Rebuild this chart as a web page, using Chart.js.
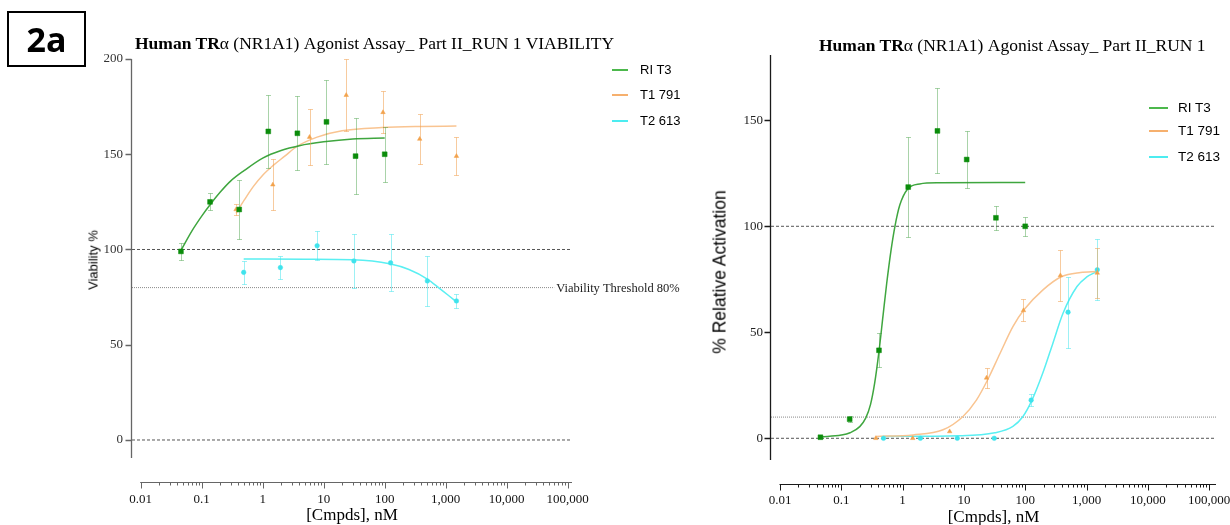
<!DOCTYPE html>
<html>
<head>
<meta charset="utf-8">
<script src="https://cdn.jsdelivr.net/npm/chart.js@4.4.1/dist/chart.umd.min.js"></script>
<style>
  html, body { margin: 0; padding: 0; background: #fff; }
  #page { position: relative; width: 1230px; height: 525px; overflow: hidden; background: #fff; }
  canvas { position: absolute; top: 0; }
  #viabilityChart { left: 0; }
  #activationChart { left: 700px; }
  .tag { position: absolute; left: 7px; top: 11px; width: 75px; height: 52px; border: 2px solid #000;
         font: bold 34px 'Open Sans'; display: flex; align-items: center; justify-content: center; line-height: 1; }
  .title { position: absolute; font: 17.5px 'Liberation Serif'; line-height: 18px; white-space: nowrap; color: #000; }
  .ytitle { position: absolute; font-family: 'Liberation Sans'; white-space: nowrap; color: #000;
            transform: translate(-50%, -50%) rotate(-90deg); }
  .key { position: absolute; font: 13px 'Liberation Sans'; white-space: nowrap; color: #000; line-height: 16px; }
  .key i { position: absolute; top: 7px; height: 2px; }
</style>
</head>
<body>
<div id="page">
  <canvas id="viabilityChart" width="700" height="525"></canvas>
  <canvas id="activationChart" width="540" height="525"></canvas>

  <div class="tag">2a</div>

  <div class="title" style="left:135px; top:34px;"><b>Human TR</b>α (NR1A1) Agonist Assay_ Part II_RUN 1 VIABILITY</div>
  <div class="title" style="left:819px; top:36px;"><b>Human TR</b>α (NR1A1) Agonist Assay_ Part II_RUN 1</div>

  <div class="ytitle" style="left:93px; top:260px; font-size:13px;">Viability %</div>
  <div class="ytitle" style="left:720px; top:272px; font-size:17.5px;">% Relative Activation</div>

  <div id="keyLeft"></div>
  <div id="keyRight"></div>
</div>

<script>
// Concentrations (nM) for each compound
const concT3 = [0.0457, 0.137, 0.412, 1.235, 3.70, 11.1, 33.3, 100];
const concT1 = [0.366, 1.465, 5.86, 23.4, 93.75, 375, 1500];
const concT2 = [0.488, 1.95, 7.8, 31.25, 125, 500, 1500];

const seriesNames = ['RI T3', 'T1 791', 'T2 613'];

// Viability (%), mean and SD
const viabT3 = [99, 125, 121, 162, 161, 167, 149, 150];
const viabT3Sd = [4.5, 4.5, 15.5, 19, 19.5, 22, 20, 14.5];
const viabT1 = [121, 134, 159, 181, 172, 158, 149];
const viabT1Sd = [3, 13.5, 14.5, 19, 11, 13, 10];
const viabT2 = [88, 90.5, 102, 94, 93, 83.5, 73];
const viabT2Sd = [6, 6, 7.5, 14, 15, 13, 3.5];

// Viability fitted curves
const viabFitT3X = [0.0457, 0.07, 0.1, 0.137, 0.2, 0.3, 0.5, 1, 2, 4, 10, 30, 100];
const viabFitT3Y = [99.5, 110, 117.5, 123.5, 130, 136, 141.5, 148, 152, 154.5, 156.5, 158, 158.5];
const viabFitT1X = [0.366, 0.5, 0.7, 1, 1.47, 2.3, 3.6, 7.8, 20, 90, 400, 1500];
const viabFitT1Y = [119, 126, 133, 139, 144, 149, 154, 159, 162.3, 164, 164.6, 164.8];
const viabFitT2X = [0.488, 5, 30, 120, 250, 500, 800, 1100, 1500];
const viabFitT2Y = [95, 94.9, 94.6, 92.5, 89.5, 84.5, 79.5, 76, 72.5];

// Relative activation (%), mean and SD
const actT3 = [0.5, 9, 41.5, 118.5, 145, 131.5, 104, 100];
const actT3Sd = [0, 1.5, 8, 23.5, 20, 13.5, 5.8, 4.5];
const actT1 = [0, 0, 3.2, 28.5, 60.3, 76.8, 78];
const actT1Sd = [0, 0, 0, 4.7, 5.2, 12, 11.7];
const actT2 = [0, 0, 0, 0, 18, 59.5, 79.5];
const actT2Sd = [0, 0, 0, 0, 3, 16.7, 14.5];

// Activation fitted curves
const actFitT3X = [0.0457, 0.1, 0.139, 0.2, 0.25, 0.3, 0.35, 0.412, 0.48, 0.55, 0.65, 0.75, 0.9, 1.2, 1.9, 4, 100];
const actFitT3Y = [0.6, 1.5, 2.6, 5.5, 9.5, 16, 26, 41, 58, 73, 89, 100, 110, 117.5, 120, 120.5, 120.7];
const actFitT1X = [0.366, 1.48, 4.56, 9.66, 16, 24.4, 38.8, 63, 95.5, 195, 394, 800, 1500];
const actFitT1Y = [0.9, 1.6, 4, 10.3, 18, 27.6, 40, 52.7, 60.6, 70, 76.3, 78.2, 78.7];
const actFitT2X = [0.488, 8.6, 32, 63, 92, 129, 195, 284, 414, 700, 1000, 1500];
const actFitT2Y = [0.9, 1.2, 2.6, 5.6, 10.3, 18, 31, 45, 59, 71.6, 76, 78.7];

// Axis ticks
const xTickValues = [0.01, 0.1, 1, 10, 100, 1000, 10000, 100000];
const xTickLabels = ['0.01', '0.1', '1', '10', '100', '1,000', '10,000', '100,000'];
const viabYTicks = [0, 50, 100, 150, 200];
const actYTicks = [0, 50, 100, 150];

// Reference lines
const viabDashed = [100, 0];
const viabThreshold = 80;
const actDashed = [100, 0];
const actDotted = [10];

const colors = {
  green: { marker: '#0b8c0b', line: '#3fa63f', key: '#4cb84c', err: 'rgba(50,150,50,0.42)' },
  orange: { marker: '#f2a24c', line: '#f9c491', key: '#f6b06e', err: 'rgba(240,160,80,0.55)' },
  cyan: { marker: '#3fe3ec', line: '#5aeff2', key: '#4cecf0', err: 'rgba(60,228,235,0.5)' }
};
const palette = [colors.green, colors.orange, colors.cyan];

const pts = (xs, ys) => xs.map((x, i) => ({ x, y: ys[i] }));

// minor ticks 2..9 within each decade
const minorTicks = [];
for (let k = 0; k < xTickValues.length - 1; k++) {
  for (let m = 2; m <= 9; m++) minorTicks.push(+(xTickValues[k] * m).toPrecision(6));
}
const allXTicks = xTickValues.concat(minorTicks).sort((a, b) => a - b);
const isDecade = v => xTickValues.some(d => Math.abs(d - v) / d < 1e-6);

// error bars under the markers, axis lines and tick marks on top
const prismAxes = {
  id: 'prismAxes',
  beforeDatasetDraw(chart, args) {
    const ds = chart.data.datasets[args.index];
    if (!ds.sd) return;
    const { ctx, scales: { x, y } } = chart;
    ctx.save();
    ctx.strokeStyle = ds.errorColor;
    ctx.lineWidth = 1;
    ds.data.forEach((p, i) => {
      const e = ds.sd[i];
      if (!e) return;
      const px = Math.round(x.getPixelForValue(p.x)) + 0.5;
      const top = Math.round(y.getPixelForValue(p.y + e)) + 0.5;
      const bot = Math.round(y.getPixelForValue(p.y - e)) + 0.5;
      ctx.beginPath();
      ctx.moveTo(px, top); ctx.lineTo(px, bot);
      ctx.moveTo(px - 2.5, top); ctx.lineTo(px + 2.5, top);
      ctx.moveTo(px - 2.5, bot); ctx.lineTo(px + 2.5, bot);
      ctx.stroke();
    });
    ctx.restore();
  },
  afterDraw(chart, args, opts) {
    const { ctx, chartArea: a, scales: { x, y } } = chart;
    ctx.save();
    ctx.strokeStyle = opts.color;
    ctx.lineWidth = 1.3;
    const ax = Math.round(a.left) - 0.5;
    ctx.beginPath();
    ctx.moveTo(ax, a.top);
    ctx.lineTo(ax, y.getPixelForValue(opts.yFloor));
    y.ticks.forEach(t => {
      const py = Math.round(y.getPixelForValue(t.value)) + 0.5;
      ctx.moveTo(ax - 6, py); ctx.lineTo(ax, py);
    });
    ctx.stroke();

    ctx.lineWidth = 1;
    const by = Math.round(a.bottom) + 0.5;
    ctx.beginPath();
    ctx.moveTo(x.getPixelForValue(xTickValues[0]) - 0.5, by);
    ctx.lineTo(a.right, by);
    x.ticks.forEach(t => {
      const px = Math.round(x.getPixelForValue(t.value)) + 0.5;
      ctx.moveTo(px, by);
      ctx.lineTo(px, by + (isDecade(t.value) ? 6 : 3));
    });
    ctx.stroke();

    if (opts.note) {
      ctx.fillStyle = '#222';
      ctx.font = '12.5px "Liberation Serif"';
      ctx.textBaseline = 'middle';
      ctx.fillText(opts.note.text, x.getPixelForValue(opts.note.x) + 2, y.getPixelForValue(opts.note.y) + 1);
    }
    ctx.restore();
  }
};

function markerSet(label, xs, ys, sd, col, style, radius) {
  return {
    label, data: pts(xs, ys), sd, errorColor: col.err,
    showLine: false, pointStyle: style, pointRadius: radius,
    pointBackgroundColor: col.marker, pointBorderColor: col.marker, pointBorderWidth: 0.5
  };
}
function curveSet(xs, ys, col) {
  return {
    data: pts(xs, ys), showLine: true, borderColor: col.line, borderWidth: 1.5,
    pointRadius: 0, cubicInterpolationMode: 'monotone', fill: false
  };
}
function refLine(v, xMin, xMax, dotted) {
  return {
    data: [{ x: xMin, y: v }, { x: xMax, y: v }], showLine: true, pointRadius: 0,
    borderColor: dotted ? '#8a8a8a' : '#555', borderWidth: 1,
    borderDash: dotted ? [1, 1] : [3, 2]
  };
}

function makeOptions(cfg) {
  const tickFont = { family: 'Liberation Serif', size: 13 };
  return {
    responsive: false, animation: false, devicePixelRatio: 1,
    layout: { padding: { left: 0, top: cfg.top, right: cfg.right, bottom: 0 } },
    plugins: {
      legend: { display: false }, tooltip: { enabled: false },
      prismAxes: { color: cfg.axisColor, yFloor: cfg.yFloor, note: cfg.note }
    },
    scales: {
      x: {
        type: 'logarithmic', position: 'bottom', min: cfg.xMin, max: cfg.xMax,
        grid: { display: false, drawTicks: false }, border: { display: false },
        afterBuildTicks: s => { s.ticks = allXTicks.map(v => ({ value: v, major: isDecade(v) })); },
        afterFit: s => { s.height = cfg.xHeight; },
        ticks: {
          autoSkip: false, maxRotation: 0, minRotation: 0, padding: cfg.xPad,
          font: tickFont, color: '#111',
          callback: v => {
            const i = xTickValues.findIndex(d => Math.abs(d - v) / d < 1e-6);
            return i >= 0 ? xTickLabels[i] : '';
          }
        },
        title: {
          display: true, text: '[Cmpds], nM', color: '#000',
          font: { family: 'Liberation Serif', size: 17 }, padding: { top: 0, bottom: cfg.titlePad }
        }
      },
      y: {
        min: cfg.yMin, max: cfg.yMax,
        grid: { display: false, drawTicks: false }, border: { display: false },
        afterBuildTicks: s => { s.ticks = cfg.yTicks.map(v => ({ value: v })); },
        afterFit: s => { s.width = cfg.yWidth; },
        ticks: { padding: cfg.yPad, font: tickFont, color: cfg.labelColor }
      }
    }
  };
}

// Viability panel
const vXMin = Math.pow(10, -2 - 8.7 / 61), vXMax = Math.pow(10, -2 + 431.3 / 61);
new Chart(document.getElementById('viabilityChart'), {
  type: 'scatter',
  data: {
    datasets: [
      markerSet(seriesNames[0], concT3, viabT3, viabT3Sd, colors.green, 'rect', 3.4),
      markerSet(seriesNames[1], concT1, viabT1, viabT1Sd, colors.orange, 'triangle', 2.6),
      markerSet(seriesNames[2], concT2, viabT2, viabT2Sd, colors.cyan, 'circle', 2.3),
      curveSet(viabFitT3X, viabFitT3Y, colors.green),
      curveSet(viabFitT1X, viabFitT1Y, colors.orange),
      curveSet(viabFitT2X, viabFitT2Y, colors.cyan),
      ...viabDashed.map(v => refLine(v, vXMin, vXMax, false)),
      refLine(viabThreshold, vXMin, 60000, true)
    ]
  },
  options: makeOptions({
    top: 59, right: 128, yWidth: 132, xHeight: 43, xPad: 10, titlePad: -1, yPad: 9,
    xMin: vXMin, xMax: vXMax, yMin: -22.05, yMax: 200, yTicks: viabYTicks, yFloor: -9.4,
    axisColor: '#666', labelColor: '#333',
    note: { text: 'Viability Threshold 80%', x: 60000, y: viabThreshold }
  }),
  plugins: [prismAxes]
});

// Activation panel
const aXMin = Math.pow(10, -2 - 9 / 61.3), aXMax = Math.pow(10, -2 + 436 / 61.3);
new Chart(document.getElementById('activationChart'), {
  type: 'scatter',
  data: {
    datasets: [
      markerSet(seriesNames[0], concT3, actT3, actT3Sd, colors.green, 'rect', 3.4),
      markerSet(seriesNames[1], concT1, actT1, actT1Sd, colors.orange, 'triangle', 2.6),
      markerSet(seriesNames[2], concT2, actT2, actT2Sd, colors.cyan, 'circle', 2.3),
      curveSet(actFitT3X, actFitT3Y, colors.green),
      curveSet(actFitT1X, actFitT1Y, colors.orange),
      curveSet(actFitT2X, actFitT2Y, colors.cyan),
      ...actDashed.map(v => refLine(v, aXMin, aXMax, false)),
      ...actDotted.map(v => refLine(v, aXMin, aXMax, true))
    ]
  },
  options: makeOptions({
    top: 55, right: 24, yWidth: 71, xHeight: 41, xPad: 9, titlePad: -3, yPad: 8,
    xMin: aXMin, xMax: aXMax, yMin: -21.56, yMax: 180.8, yTicks: actYTicks, yFloor: -10.2,
    axisColor: '#1a1a1a', labelColor: '#222'
  }),
  plugins: [prismAxes]
});

// Series keys
function buildKey(el, left, tops, lineW, gap, fontSize) {
  seriesNames.forEach((name, i) => {
    const d = document.createElement('div');
    d.className = 'key';
    d.style.left = left + 'px';
    d.style.top = Math.round(tops[i] - 8) + 'px';
    d.style.paddingLeft = (lineW + gap) + 'px';
    d.style.fontSize = fontSize + 'px';
    d.textContent = name;
    const line = document.createElement('i');
    line.style.left = '0px';
    line.style.width = lineW + 'px';
    line.style.background = palette[i].key;
    d.appendChild(line);
    el.appendChild(d);
  });
}
buildKey(document.getElementById('keyLeft'), 612, [70, 95, 121], 16, 12, 13);
buildKey(document.getElementById('keyRight'), 1149, [108, 131, 157], 19, 10, 13.5);
</script>
</body>
</html>
